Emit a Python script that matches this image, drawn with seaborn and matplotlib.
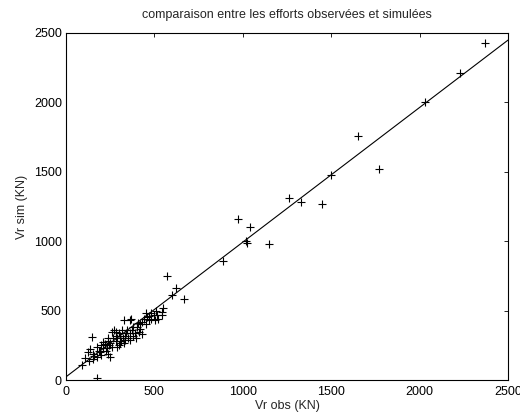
import numpy as np
import pandas as pd
import matplotlib
matplotlib.use("Agg")
import matplotlib.pyplot as plt
import seaborn as sns

vr_obs = [2370, 2230, 2030, 1770, 1650, 1500, 1450, 1330, 1260, 1150,
          1040, 1020, 1025, 970, 890, 670, 620, 600, 570,
          540, 515, 545, 505, 450, 460, 440, 370, 330, 360,
          420, 410, 390, 360, 345, 335, 305, 290, 270, 260,
          240, 210, 200, 175, 145, 135, 125, 155, 175, 105,
          90, 240, 250, 175, 305, 335,
          230, 220, 250, 280, 300, 320, 350, 380, 400, 420,
          430, 470, 480, 500, 520, 300, 280, 260, 190, 200,
          160, 150, 130, 185, 210, 265, 310, 340, 375, 395,
          430, 360, 330, 290, 225, 245, 380, 405, 450, 510,
          550, 480, 470, 315, 285, 240]
vr_sim = [2430, 2210, 2000, 1520, 1760, 1480, 1270, 1280, 1310, 980,
          1100, 1000, 985, 1160, 860, 580, 660, 610, 750,
          490, 470, 465, 430, 480, 455, 440, 440, 435, 430,
          370, 345, 335, 335, 360, 320, 320, 300, 360, 345,
          300, 275, 250, 240, 310, 225, 205, 190, 165, 155,
          105, 190, 165, 15, 265, 290,
          230, 260, 270, 280, 250, 300, 300, 320, 380, 400,
          420, 430, 440, 470, 440, 340, 320, 240, 200, 180,
          170, 150, 140, 210, 230, 300, 280, 340, 360, 300,
          330, 290, 270, 240, 210, 255, 380, 410, 400, 500,
          520, 480, 460, 360, 345, 280]

# fitted line
fit_x = [0, 2500]
fit_y = [23, 2448]

df = pd.DataFrame({"obs": vr_obs, "sim": vr_sim})
line = pd.DataFrame({"x": fit_x, "y": fit_y})

sns.set_style("white")
plt.rcParams["font.family"] = ["Liberation Sans", "DejaVu Sans"]

fig = plt.figure(figsize=(5.2, 4.16), dpi=100)
ax = fig.add_axes([0.127, 0.0865, 0.85, 0.8345])

sns.scatterplot(data=df, x="obs", y="sim", marker="+", color="k",
                s=40, linewidth=0.8, ax=ax)
sns.lineplot(data=line, x="x", y="y", color="k", linewidth=0.8, ax=ax)

ax.set_xlim(0, 2500)
ax.set_ylim(0, 2500)
ax.set_xticks(range(0, 2501, 500))
ax.set_yticks(range(0, 2501, 500))
ax.tick_params(direction="in", top=True, right=True, length=3,
               width=0.6, labelsize=9, colors="k")
ax.tick_params(axis="x", pad=4)
ax.tick_params(axis="y", pad=3)
for sp in ax.spines.values():
    sp.set_color("k")
    sp.set_linewidth(0.8)

ax.set_xlabel("Vr obs (KN)", fontsize=9, labelpad=2)
ax.set_ylabel("Vr sim (KN)", fontsize=9, labelpad=4)
ax.set_title("comparaison entre les efforts observées et simulées", fontsize=9, pad=11)

fig.savefig("out.png", dpi=100)
